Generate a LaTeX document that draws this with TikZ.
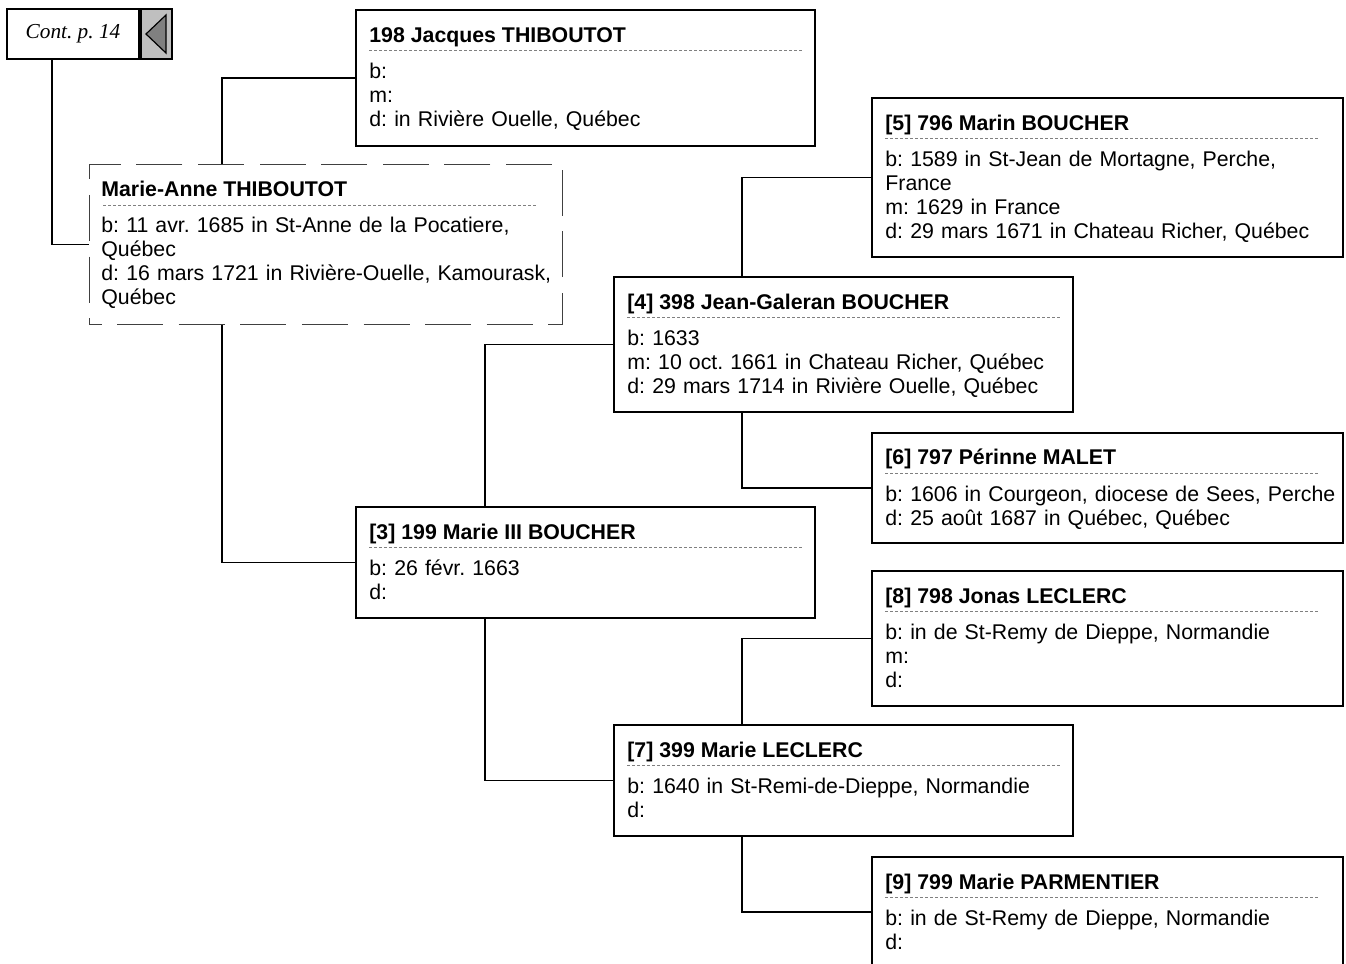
\documentclass[tikz,border=0pt]{standalone}
\usepackage{fontspec}
\setmainfont{Liberation Sans}
\newfontfamily\contfont{Liberation Serif}
\usetikzlibrary{positioning}
\frenchspacing

\begin{document}
\begin{tikzpicture}[x=0.5pt, y=-0.5pt,
	every node/.style={font=\fontsize{10.65pt}{12pt}\selectfont},
	pbox/.style={draw, line width=1pt, anchor=north west, inner sep=0pt,
	minimum width=229.5pt, minimum height=#1},
	wbox/.style={pbox=#1, minimum width=235.5pt},
	title/.style={anchor=base west, inner sep=0pt,
	font=\fontsize{10.65pt}{12pt}\selectfont\bfseries},
	info/.style={anchor=base west, inner sep=0pt, text width=230pt, align=left},
	sep/.style={draw=gray, line width=0.5pt, dash pattern=on 1.5pt off 1pt},
	link/.style={line width=0.9pt}
	]
	\clip (0,0) rectangle (1346,964);
	% continuation marker
	\node[draw, line width=1pt, anchor=north west, inner sep=0pt,
	minimum width=66pt, minimum height=25pt,
	font=\contfont\itshape\fontsize{10.65pt}{12pt}\selectfont] (cont) at (6,8) {Cont. p. 14\hspace{3pt}};
	\node[draw, line width=1pt, fill=lightgray, anchor=west, inner sep=0pt,
	minimum width=15.5pt, minimum height=25pt] (back) at (cont.east) {};
	\draw[fill=gray, line width=0.6pt] ([xshift=-13.5pt]back.east) --
	([shift={(-3.5pt,9.5pt)}]back.east) -- ([shift={(-3.5pt,-9.5pt)}]back.east) -- cycle;
	% boxes
	\node[pbox=68pt] (b198) at (355,9) {};
	\node[pbox=80pt, draw=darkgray, line width=0.5pt,
	dash pattern=on 23pt off 7.8pt, dash phase=17pt, minimum width=236.5pt] (anne) at (89,164) {};
	\node[wbox=79.5pt] (p5) at (871,97) {};
	\node[pbox=67.5pt] (p4) at (613,276) {};
	\node[wbox=55pt] (p6) at (871,432) {};
	\node[pbox=55.5pt] (p3) at (355,506) {};
	\node[wbox=67.5pt] (p8) at (871,570) {};
	\node[pbox=55.5pt] (p7) at (613,724) {};
	\node[wbox=55pt] (p9) at (871,856) {};
	% names
	\node[title] (b198 name) at ([shift={(7pt,-16.5pt)}]b198.north west) {198 Jacques THIBOUTOT};
	\node[title] (anne name) at ([shift={(6pt,-16pt)}]anne.north west) {Marie-Anne THIBOUTOT};
	\node[title] (p5 name) at ([shift={(7pt,-16.5pt)}]p5.north west) {[5] 796 Marin BOUCHER};
	\node[title] (p4 name) at ([shift={(7pt,-16.5pt)}]p4.north west) {[4] 398 Jean-Galeran BOUCHER};
	\node[title] (p6 name) at ([shift={(7pt,-16pt)}]p6.north west) {[6] 797 Périnne MALET};
	\node[title] (p3 name) at ([shift={(7pt,-16.5pt)}]p3.north west) {[3] 199 Marie III BOUCHER};
	\node[title] (p8 name) at ([shift={(7pt,-16.5pt)}]p8.north west) {[8] 798 Jonas LECLERC};
	\node[title] (p7 name) at ([shift={(7pt,-16.5pt)}]p7.north west) {[7] 399 Marie LECLERC};
	\node[title] (p9 name) at ([shift={(7pt,-16.5pt)}]p9.north west) {[9] 799 Marie PARMENTIER};
	\foreach \p in {b198,anne,p5,p4,p6,p3,p8,p7,p9}
	\draw[sep] ([shift={(7pt,-20.5pt)}]\p.north west) -- ++(216.5pt,0);
	% dates
	\node[info] (b198 info) at ([shift={(7pt,-34.5pt)}]b198.north west)
	{b:\\m:\\d: in Rivière Ouelle, Québec};
	\node[info] (anne info) at ([shift={(6pt,-34pt)}]anne.north west)
	{b: 11 avr. 1685 in St-Anne de la Pocatiere,\\Québec\\d: 16 mars 1721 in Rivière-Ouelle, Kamourask,\\Québec};
	\node[info] (p5 info) at ([shift={(7pt,-34.5pt)}]p5.north west)
	{b: 1589 in St-Jean de Mortagne, Perche,\\France\\m: 1629 in France\\d: 29 mars 1671 in Chateau Richer, Québec};
	\node[info] (p4 info) at ([shift={(7pt,-34.5pt)}]p4.north west)
	{b: 1633\\m: 10 oct. 1661 in Chateau Richer, Québec\\d: 29 mars 1714 in Rivière Ouelle, Québec};
	\node[info] (p6 info) at ([shift={(7pt,-34.5pt)}]p6.north west)
	{b: 1606 in Courgeon, diocese de Sees, Perche\\d: 25 août 1687 in Québec, Québec};
	\node[info] (p3 info) at ([shift={(7pt,-34.5pt)}]p3.north west)
	{b: 26 févr. 1663\\d:};
	\node[info] (p8 info) at ([shift={(7pt,-34.5pt)}]p8.north west)
	{b: in de St-Remy de Dieppe, Normandie\\m:\\d:};
	\node[info] (p7 info) at ([shift={(7pt,-34.5pt)}]p7.north west)
	{b: 1640 in St-Remi-de-Dieppe, Normandie\\d:};
	\node[info] (p9 info) at ([shift={(7pt,-34.5pt)}]p9.north west)
	{b: in de St-Remy de Dieppe, Normandie\\d:};
	% lines
	\draw[link] ([xshift=23pt]cont.south west) |- (anne.west);
	\draw[link] ([xshift=66.5pt]anne.north west) |- (b198.west);
	\draw[link] ([xshift=66.5pt]anne.south west) |- (p3.west);
	\draw[link] ([xshift=65pt]p3.north west) |- (p4.west);
	\draw[link] ([xshift=65pt]p3.south west) |- (p7.west);
	\draw[link] ([xshift=64.5pt]p4.north west) |- (p5.west);
	\draw[link] ([xshift=64.5pt]p4.south west) |- (p6.west);
	\draw[link] ([xshift=64.5pt]p7.north west) |- (p8.west);
	\draw[link] ([xshift=64.5pt]p7.south west) |- (p9.west);
\end{tikzpicture}
\end{document}
